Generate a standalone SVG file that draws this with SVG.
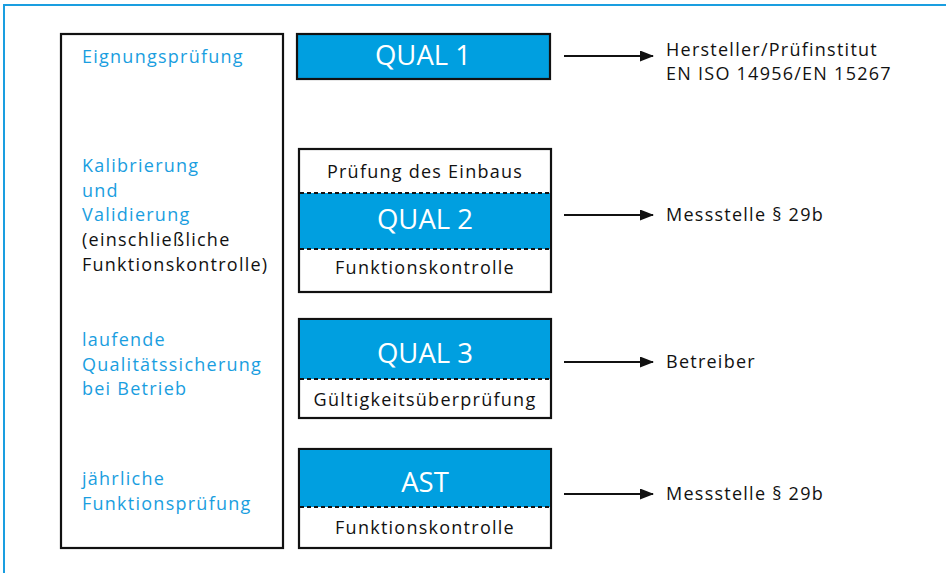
<svg xmlns="http://www.w3.org/2000/svg" width="946" height="573" viewBox="0 0 946 573">
  <style>
    .lbl { font-family: "Open Sans", "Noto Sans", "Liberation Sans", sans-serif; font-size: 18px; letter-spacing: 1.25px; }
    .blue { fill: #1a9ee0; }
    .dark { fill: #111; }
    .big { font-family: "Open Sans", "Noto Sans", "Liberation Sans", sans-serif; font-size: 27.5px; fill: #fff; text-anchor: middle; }
    .sub { font-family: "Open Sans", "Noto Sans", "Liberation Sans", sans-serif; font-size: 18px; letter-spacing: 1.25px; fill: #111; text-anchor: middle; }
    .box { fill: #fff; stroke: #111; stroke-width: 2.2; }
    .band { fill: #009fe0; }
    .dash { stroke: #111; stroke-width: 2; stroke-dasharray: 4 3; fill: none; }
    .conn { stroke: #111; stroke-width: 2; fill: none; marker-end: url(#arrow); }
  </style>
  <defs>
    <marker id="arrow" markerWidth="14" markerHeight="11" refX="13" refY="5.5" orient="auto" markerUnits="userSpaceOnUse">
      <path d="M0,0 L14,5.5 L0,11 Z" fill="#111"/>
    </marker>
  </defs>

  <!-- outer frame -->
  <path d="M4,573 V5 H946" fill="none" stroke="#1a9ee0" stroke-width="2"/>

  <!-- phase column -->
  <g id="phases">
    <rect x="61" y="34" width="222" height="514" class="box"/>
    <text class="lbl blue" x="82" y="63">Eignungsprüfung</text>
    <text class="lbl blue" x="82" y="172">Kalibrierung</text>
    <text class="lbl blue" x="82" y="197">und</text>
    <text class="lbl blue" x="82" y="221">Validierung</text>
    <text class="lbl dark" x="82" y="246">(einschließliche</text>
    <text class="lbl dark" x="82" y="271">Funktionskontrolle)</text>
    <text class="lbl blue" x="82" y="346">laufende</text>
    <text class="lbl blue" x="82" y="371">Qualitätssicherung</text>
    <text class="lbl blue" x="82" y="395">bei Betrieb</text>
    <text class="lbl blue" x="82" y="485">jährliche</text>
    <text class="lbl blue" x="82" y="510">Funktionsprüfung</text>
  </g>

  <g id="qual1">
    <rect x="297" y="34" width="253" height="45" class="band" stroke="#111" stroke-width="2.2"/>
    <text class="big" x="423" y="65">QUAL 1</text>
  </g>

  <g id="qual2">
    <rect x="299" y="149" width="252" height="143" class="box"/>
    <rect x="300" y="193" width="250" height="56" class="band"/>
    <line x1="300" y1="193" x2="550" y2="193" class="dash"/>
    <line x1="300" y1="249" x2="550" y2="249" class="dash"/>
    <text class="sub" x="425" y="178">Prüfung des Einbaus</text>
    <text class="big" x="425" y="229">QUAL 2</text>
    <text class="sub" x="425" y="274">Funktionskontrolle</text>
  </g>

  <g id="qual3">
    <rect x="299" y="319" width="252" height="99" class="box"/>
    <rect x="300" y="320" width="250" height="59" class="band"/>
    <line x1="300" y1="379" x2="550" y2="379" class="dash"/>
    <text class="big" x="425" y="363">QUAL 3</text>
    <text class="sub" x="425" y="406">Gültigkeitsüberprüfung</text>
  </g>

  <g id="ast">
    <rect x="299" y="449" width="252" height="99" class="box"/>
    <rect x="300" y="450" width="250" height="57" class="band"/>
    <line x1="300" y1="507" x2="550" y2="507" class="dash"/>
    <text class="big" x="425" y="492">AST</text>
    <text class="sub" x="425" y="534">Funktionskontrolle</text>
  </g>

  <g id="connectors">
    <line x1="564" y1="56" x2="653" y2="56" class="conn"/>
    <line x1="564" y1="215" x2="653" y2="215" class="conn"/>
    <line x1="564" y1="362" x2="653" y2="362" class="conn"/>
    <line x1="564" y1="494" x2="653" y2="494" class="conn"/>
  </g>

  <g id="roles">
    <text class="lbl dark" x="666" y="56">Hersteller/Prüfinstitut</text>
    <text class="lbl dark" x="666" y="80">EN ISO 14956/EN 15267</text>
    <text class="lbl dark" x="666" y="221">Messstelle § 29b</text>
    <text class="lbl dark" x="666" y="368">Betreiber</text>
    <text class="lbl dark" x="666" y="500">Messstelle § 29b</text>
  </g>
</svg>
